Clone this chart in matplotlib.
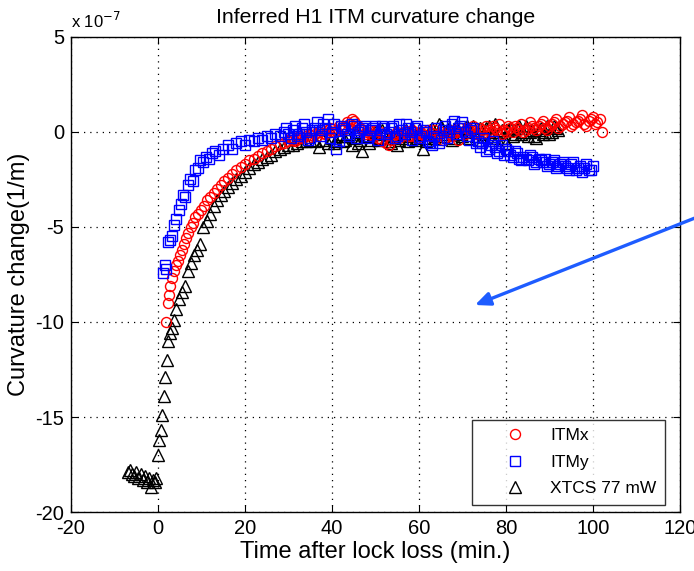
import matplotlib
matplotlib.use("Agg")
import matplotlib.pyplot as plt
from matplotlib.ticker import FuncFormatter

plt.rcParams['font.family'] = ['Liberation Sans', 'DejaVu Sans']
plt.rcParams['axes.unicode_minus'] = False

SCALE = 1e-7

# ITMx curvature change (units of 1e-7 1/m) vs time after lock loss (min)
itmx_t = [1.9, 2.2, 2.5, 2.8, 3.2, 3.6, 4.1, 4.6, 5.0, 5.5, 6.0, 6.5, 7.0, 7.5, 8.0,
          8.6, 9.2, 9.8, 10.5, 11.2, 12.0, 12.8, 13.6, 14.4, 15.2, 16.0, 17.0, 18.0,
          19.0, 20.0, 21.0, 22.0, 23.0, 24.0, 25.0, 26.0, 27.0, 28.0, 29.0, 30.0,
          31, 32, 33, 34, 35, 36, 37, 38, 39, 40, 41, 42, 43, 44, 45, 46, 47, 48,
          49, 50, 51, 52, 53, 54, 55, 56, 57, 58, 59, 60, 61, 62, 63, 64, 65, 66,
          67, 68, 69, 70, 71, 72, 73, 74, 75, 76, 77, 78, 79, 80, 81, 82, 83, 84,
          85, 86, 87, 88, 89, 90, 91, 92, 93, 94, 95, 96, 97, 98, 99, 100, 101,
          101.5, 102]
itmx_y = [-10.0, -9.0, -8.6, -8.1, -7.7, -7.3, -7.0, -6.8, -6.5, -6.2, -5.9, -5.6,
          -5.3, -5.0, -4.8, -4.5, -4.3, -4.1, -3.9, -3.6, -3.4, -3.2, -3.0, -2.8,
          -2.6, -2.4, -2.2, -2.0, -1.85, -1.7, -1.5, -1.4, -1.25, -1.1, -1.0, -0.9,
          -0.75, -0.65, -0.6, -0.5, -0.4, -0.35, -0.3, -0.2, -0.15, -0.1, 0.0,
          -0.05, 0.1, 0.15, 0.05, 0.2, 0.25, 0.4, 0.6, 0.3, 0.1, 0.0, -0.1, 0.05,
          0.0, -0.1, -0.7, -0.2, 0.0, -0.15, 0.05, -0.2, -0.1, 0.0, -0.1, 0.1,
          -0.05, -0.2, 0.0, -0.3, -0.1, 0.1, -0.4, 0.0, 0.2, 0.1, -0.1, 0.2, 0.0,
          0.1, 0.3, 0.1, -0.1, 0.0, 0.2, 0.3, 0.1, 0.0, 0.2, 0.3, 0.1, 0.4, 0.2,
          0.3, 0.5, 0.2, 0.4, 0.6, 0.3, 0.5, 0.7, 0.4, 0.6, 0.8, 0.5, 0.7, 0.0]
# interleaved ITMx samples on the plateau
itmx_t2 = [30.5, 31.5, 32.5, 33.5, 34.5, 35.5, 36.5, 37.5, 38.5, 39.5, 40.5, 41.5,
           42.5, 43.5, 44.5, 45.5, 46.5, 47.5, 48.5, 49.5, 50.5, 51.5, 52.5, 53.5,
           54.5, 55.5, 56.5, 57.5, 58.5, 59.5, 60.5, 61.5, 62.5, 63.5, 64.5, 65.5,
           66.5, 67.5, 68.5, 69.5, 70.5, 71.5, 72.5, 73.5, 74.5, 75.5, 76.5, 77.5,
           78.5, 79.5, 80.5, 81.5, 82.5, 83.5, 84.5, 85.5, 86.5, 87.5, 88.5, 89.5,
           90.5, 91.5, 92.5, 93.5, 94.5, 95.5, 96.5, 97.5, 98.5, 99.5, 100.5]
itmx_y2 = [-0.3, -0.5, -0.2, -0.1, -0.3, 0.0, -0.2, 0.1, -0.1, 0.2, 0.0, 0.3,
           0.1, 0.5, 0.7, 0.4, 0.2, -0.1, 0.1, -0.2, -0.3, -0.5, -0.6, -0.4,
           -0.1, -0.3, 0.0, -0.2, 0.1, -0.3, -0.1, 0.0, -0.2, 0.1, -0.1, -0.4,
           0.0, -0.2, 0.0, 0.2, -0.1, 0.1, 0.3, 0.0, 0.1, 0.3, 0.0, 0.2,
           0.4, 0.1, 0.3, 0.0, 0.2, 0.4, 0.1, 0.5, 0.2, 0.3, 0.6, 0.1,
           0.4, 0.7, 0.3, 0.5, 0.8, 0.4, 0.6, 0.9, 0.3, 0.7, 0.4]

# ITMy curvature change
itmy_t = [1.2, 1.5, 1.8, 2.2, 2.7, 3.2, 3.6, 4.2, 4.8, 5.3, 5.8, 6.3, 6.9, 7.4, 8.0,
          8.5, 9.1, 9.7, 10.3, 11.0, 11.7, 12.4, 13.2, 14.0, 15.0, 16.0, 17.0, 18.0,
          19.0, 20.0, 21, 22, 23, 24, 25, 26, 27, 28, 29, 30, 31, 32, 33, 34, 35,
          36, 37, 38, 39, 40, 41, 42, 43, 44, 45, 46, 47, 48, 49, 50, 51, 52, 53,
          54, 55, 56, 57, 58, 59, 60, 61, 62, 63, 64, 65, 66, 67, 68, 69, 70, 71,
          72, 73, 74, 75, 76, 77, 78, 79, 80, 81, 82, 83, 84, 85, 86, 87, 88, 89,
          90, 91, 92, 93, 94, 95, 96, 97, 98, 99, 100]
itmy_y = [-7.4, -7.0, -7.2, -5.8, -5.7, -5.5, -4.9, -4.6, -4.1, -3.8, -3.3, -3.4,
          -2.8, -2.5, -2.6, -2.0, -1.9, -1.5, -1.6, -1.3, -1.4, -1.1, -1.0, -1.2,
          -0.9, -0.7, -0.9, -0.6, -0.5, -0.7, -0.4, -0.5, -0.3, -0.4, -0.2, -0.3,
          -0.1, -0.2, 0.0, -0.1, 0.1, -0.2, 0.2, 0.0, -0.3, 0.2, 0.1, 0.4, 0.7,
          0.0, -0.9, 0.3, 0.1, -0.2, 0.3, 0.0, 0.2, -0.3, 0.1, 0.3, -0.1, 0.2, 0.0,
          0.3, -0.2, 0.1, 0.4, 0.0, 0.2, -0.3, 0.1, -0.5, -0.7, 0.2, -0.4, 0.3,
          0.0, 0.6, 0.2, 0.5, -0.2, 0.1, -0.6, -0.8, -0.3, -0.9, -0.5, -1.1, -0.7,
          -0.9, -1.2, -1.0, -1.4, -1.3, -1.5, -1.3, -1.6, -1.5, -1.4, -1.7, -1.5,
          -1.8, -1.6, -1.9, -1.7, -2.0, -1.8, -1.9, -2.0, -1.8]
# interleaved ITMy samples on the plateau
itmy_t2 = [29.5, 30.5, 31.5, 32.5, 33.5, 34.5, 35.5, 36.5, 37.5, 38.5, 39.5, 40.5,
           41.5, 42.5, 43.5, 44.5, 45.5, 46.5, 47.5, 48.5, 49.5, 50.5, 51.5, 52.5,
           53.5, 54.5, 55.5, 56.5, 57.5, 58.5, 59.5, 60.5, 61.5, 62.5, 63.5, 64.5,
           65.5, 66.5, 67.5, 68.5, 69.5, 70.5, 71.5, 72.5, 73.5, 74.5, 75.5, 76.5,
           77.5, 78.5, 79.5, 80.5, 81.5, 82.5, 83.5, 84.5, 85.5, 86.5, 87.5, 88.5,
           89.5, 90.5, 91.5, 92.5, 93.5, 94.5, 95.5, 96.5, 97.5, 98.5, 99.5]
itmy_y2 = [0.2, -0.3, 0.3, -0.1, 0.4, -0.4, 0.1, 0.5, -0.2, 0.2, -0.3, 0.4,
           -0.5, 0.2, -0.1, 0.4, -0.3, 0.1, 0.3, -0.2, 0.2, -0.4, 0.3, -0.1,
           0.2, -0.3, 0.4, -0.1, 0.2, -0.4, 0.3, -0.2, 0.0, -0.6, -0.2, -0.6,
           0.1, -0.3, 0.4, -0.1, 0.3, 0.0, -0.4, 0.2, -0.5, -0.6, -1.0, -0.7,
           -0.8, -1.0, -1.2, -1.0, -1.3, -1.1, -1.5, -1.4, -1.2, -1.7, -1.4, -1.6,
           -1.8, -1.6, -1.9, -1.7, -1.8, -2.0, -1.6, -1.9, -2.1, -1.7, -2.0]

# XTCS 77 mW model
xtcs_t = [-7.0, -6.5, -6.0, -5.5, -5.0, -4.5, -4.0, -3.5, -3.0, -2.5, -2.0, -1.6,
          -1.2, -0.8, -0.4, 0.0, 0.3, 0.6, 0.9, 1.3, 1.7, 2.0, 2.4, 2.8, 3.2, 3.6,
          4.2, 4.8, 5.5, 6.2, 6.9, 7.6, 8.3, 9.0, 9.7, 10.4, 11.2, 12.0, 12.8,
          13.6, 14.4, 15.2, 16.0, 17.0, 18.0, 19.0, 20.0, 21, 22, 23, 24, 25, 26,
          27, 28, 29, 30, 31, 32, 33, 34, 35, 36, 37, 38, 39, 40, 41, 42, 43, 44,
          45, 46, 47, 48, 49, 50, 51, 52, 53, 54, 55, 56, 57, 58, 59, 60, 61, 62,
          63, 64, 65, 66, 67, 68, 69, 70, 71, 72, 73, 74, 75, 76, 77, 78, 79, 80,
          81, 82, 83, 84, 85, 86, 87, 88, 89, 90, 91, 92]
xtcs_y = [-17.9, -17.8, -18.0, -18.1, -17.9, -18.2, -18.0, -18.3, -18.1, -18.4,
          -18.2, -18.7, -18.3, -18.4, -18.2, -17.0, -16.2, -15.7, -14.9, -13.9,
          -12.9, -12.0, -11.0, -10.6, -10.3, -9.9, -9.3, -8.8, -8.4, -8.1, -7.3,
          -6.9, -6.5, -6.2, -5.9, -5.0, -4.7, -4.3, -3.9, -3.6, -3.3, -3.1, -2.9,
          -2.7, -2.5, -2.3, -2.1, -1.9, -1.7, -1.6, -1.4, -1.3, -1.2, -1.0, -0.9,
          -0.8, -0.7, -0.7, -0.6, -0.5, -0.5, -0.4, -0.5, -0.8, -0.4, -0.6, -0.3,
          -0.5, -0.2, -0.4, -0.1, -0.3, -0.6, -1.0, -0.2, -0.4, 0.0, -0.3, -0.1,
          -0.5, -0.2, -0.7, -0.3, 0.1, -0.2, -0.4, -0.1, -0.9, -0.3, 0.2, -0.2,
          0.3, -0.1, 0.2, -0.3, 0.1, -0.2, 0.3, 0.0, -0.2, 0.2, -0.1, 0.3, 0.0,
          -0.3, 0.1, -0.6, 0.2, -0.1, 0.3, 0.0, -0.2, 0.1, -0.3, 0.2, 0.0, -0.1,
          0.3, 0.1]
# interleaved XTCS samples on the plateau
xtcs_t2 = [40.5, 41.5, 42.5, 43.5, 44.5, 45.5, 46.5, 47.5, 48.5, 49.5, 50.5, 51.5,
           52.5, 53.5, 54.5, 55.5, 56.5, 57.5, 58.5, 59.5, 60.5, 61.5, 62.5, 63.5,
           64.5, 65.5, 66.5, 67.5, 68.5, 69.5, 70.5, 71.5, 72.5, 73.5, 74.5, 75.5,
           76.5, 77.5, 78.5, 79.5, 80.5, 81.5, 82.5, 83.5, 84.5, 85.5, 86.5, 87.5,
           88.5, 89.5, 90.5, 91.5]
xtcs_y2 = [-0.6, -0.1, -0.5, -0.2, -0.7, 0.0, -0.4, -0.2, -0.6, -0.1, -0.4, 0.1,
           -0.3, -0.6, 0.0, -0.4, -0.1, -0.5, 0.2, -0.3, 0.0, -0.5, 0.1, -0.3,
           0.4, -0.2, 0.1, -0.4, 0.3, -0.1, 0.2, -0.3, 0.3, 0.0, -0.4, 0.2,
           -0.2, 0.4, 0.0, -0.3, 0.1, -0.2, 0.2, -0.1, 0.3, 0.0, -0.2, 0.1,
           -0.1, 0.3, 0.0, 0.2]

x_ticks = [-20, 0, 20, 40, 60, 80, 100, 120]
y_ticks = [-20, -15, -10, -5, 0, 5]


def series(t_a, y_a, t_b, y_b):
    pairs = sorted(list(zip(t_a, y_a)) + list(zip(t_b, y_b)))
    return [p[0] for p in pairs], [p[1] * SCALE for p in pairs]


fig = plt.figure(figsize=(6.94, 5.71), dpi=100)
ax = fig.add_axes([0.1023, 0.1033, 0.8775, 0.832])

tx, vx = series(itmx_t, itmx_y, itmx_t2, itmx_y2)
ty, vy = series(itmy_t, itmy_y, itmy_t2, itmy_y2)
tc, vc = series(xtcs_t, xtcs_y, xtcs_t2, xtcs_y2)

ax.plot(tx, vx, linestyle='none', marker='o', markersize=7.2,
        markerfacecolor='none', markeredgecolor='#ff0000', markeredgewidth=1.0,
        label='ITMx', zorder=4)
ax.plot(ty, vy, linestyle='none', marker='s', markersize=7.0,
        markerfacecolor='none', markeredgecolor='#0000ff', markeredgewidth=1.0,
        label='ITMy', zorder=5)
ax.plot(tc, vc, linestyle='none', marker='^', markersize=8.0,
        markerfacecolor='none', markeredgecolor='black', markeredgewidth=1.0,
        label='XTCS 77 mW', zorder=3)

ax.set_xlim(-20, 120)
ax.set_ylim(-20 * SCALE, 5 * SCALE)
ax.set_xticks(x_ticks)
ax.set_yticks([v * SCALE for v in y_ticks])
ax.yaxis.set_major_formatter(FuncFormatter(lambda v, p: f"{v / SCALE:.0f}"))

ax.grid(True, color='black', linestyle=(0, (1, 4)), linewidth=0.9)
ax.tick_params(direction='in', length=5, width=0.8, top=True, right=True,
               labelsize=14.5, colors='black', pad=5)
for sp in ax.spines.values():
    sp.set_linewidth(1.0)
    sp.set_color('black')

ax.text(0.0, 1.012, r'x 10$^{-7}$', transform=ax.transAxes, fontsize=12,
        ha='left', va='bottom')
ax.set_title('Inferred H1 ITM curvature change', fontsize=15.3, pad=10)
ax.set_xlabel('Time after lock loss (min.)', fontsize=17, labelpad=2)
ax.set_ylabel('Curvature change(1/m)', fontsize=17, labelpad=4)

leg = ax.legend(loc='lower right', bbox_to_anchor=(0.9754, 0.0147),
                fontsize=12.5, frameon=True, fancybox=False,
                borderaxespad=0.0, handletextpad=0.0, labelspacing=0.65,
                borderpad=0.5, handlelength=4.0)
leg.set_zorder(10)
leg.get_frame().set_edgecolor('black')
leg.get_frame().set_linewidth(1.0)

# annotation arrow pointing into the plot area
ax.annotate('', xy=(475, 266), xycoords='figure pixels',
            xytext=(700, 355), textcoords='figure pixels',
            arrowprops=dict(arrowstyle='-|>,head_length=0.9,head_width=0.4',
                            color='#1e5cff', linewidth=2.4, shrinkA=0, shrinkB=0),
            annotation_clip=False)

fig.savefig('out.png', dpi=100)
